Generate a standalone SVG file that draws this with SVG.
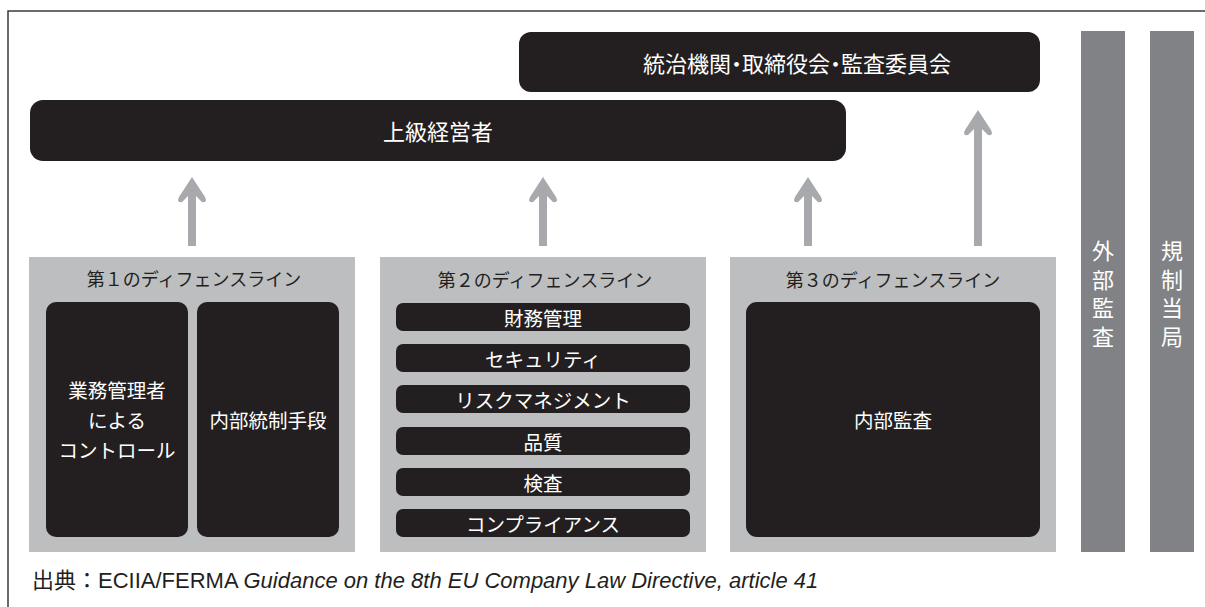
<svg xmlns="http://www.w3.org/2000/svg" width="1205" height="607" viewBox="0 0 1205 607">
<defs>
<style>
.dark{fill:#231f20}
.panel{fill:#bcbec0}
.bar{fill:#808285}
.arr{fill:#a7a9ac}
text{font-family:"Noto Sans CJK JP","Noto Sans",sans-serif;dominant-baseline:central;text-anchor:middle}
.w{fill:#ffffff}
.t22{font-size:22px}
.t20{font-size:19.5px}
.t18{font-size:18px;fill:#231f20}
.vert{font-size:22px;fill:#ffffff;writing-mode:vertical-rl;text-anchor:start;letter-spacing:6.5px}
</style>
<path id="head" d="M0,0 L13,20 Q16,26 10,25 L4,19 L-4,19 L-10,25 Q-16,26 -13,20 Z"/>
</defs>
<rect width="1205" height="607" fill="#ffffff"/>
<polyline points="8,607 8,11 1205,11" fill="none" stroke="#3a3a3a" stroke-width="1.5"/>

<g id="governance">
<rect class="dark" x="519" y="32" width="521" height="60" rx="12"/>
<text class="w t22" x="797" y="62" style="font-feature-settings:'palt'">統治機関・取締役会・監査委員会</text>
</g>
<g id="senior">
<rect class="dark" x="30" y="100" width="816" height="61" rx="13"/>
<text class="w t22" x="438" y="130">上級経営者</text>
</g>

<g id="external-audit">
<rect class="bar" x="1081" y="31" width="44" height="521"/>
<text class="vert" x="1103" y="240">外部監査</text>
</g>
<g id="regulator">
<rect class="bar" x="1150" y="31" width="44" height="521"/>
<text class="vert" x="1172" y="240">規制当局</text>
</g>

<g id="line1">
<rect class="panel" x="29" y="257" width="326" height="295"/>
<text class="t18" x="194" y="278">第１のディフェンスライン</text>
<g id="line1-ops">
<rect class="dark" x="46" y="302" width="142" height="235" rx="10"/>
<text class="w t20" x="117" y="389">業務管理者</text>
<text class="w t20" x="117" y="419">による</text>
<text class="w t20" x="117" y="449">コントロール</text>
</g>
<g id="line1-ic">
<rect class="dark" x="197" y="302" width="142" height="235" rx="10"/>
<text class="w t20" x="268" y="419">内部統制手段</text>
</g>
</g>

<g id="line2">
<rect class="panel" x="380" y="257" width="326" height="295"/>
<text class="t18" x="545" y="279">第２のディフェンスライン</text>
<g id="l2-1"><rect class="dark" x="396" y="303" width="294" height="28" rx="7"/><text class="w t20" x="543" y="317">財務管理</text></g>
<g id="l2-2"><rect class="dark" x="396" y="344" width="294" height="28" rx="7"/><text class="w t20" x="543" y="358">セキュリティ</text></g>
<g id="l2-3"><rect class="dark" x="396" y="385" width="294" height="28" rx="7"/><text class="w t20" x="543" y="399">リスクマネジメント</text></g>
<g id="l2-4"><rect class="dark" x="396" y="427" width="294" height="28" rx="7"/><text class="w t20" x="543" y="441">品質</text></g>
<g id="l2-5"><rect class="dark" x="396" y="468" width="294" height="28" rx="7"/><text class="w t20" x="543" y="482">検査</text></g>
<g id="l2-6"><rect class="dark" x="396" y="509" width="294" height="28" rx="7"/><text class="w t20" x="543" y="523">コンプライアンス</text></g>
</g>

<g id="line3">
<rect class="panel" x="730" y="257" width="326" height="295"/>
<text class="t18" x="893" y="279">第３のディフェンスライン</text>
<g id="internal-audit">
<rect class="dark" x="746" y="302" width="294" height="235" rx="11"/>
<text class="w t20" x="893" y="419">内部監査</text>
</g>
</g>

<g id="connectors" class="arr">
<rect x="188" y="194" width="8" height="52"/><use href="#head" x="192" y="177"/>
<rect x="539" y="194" width="8" height="52"/><use href="#head" x="543" y="177"/>
<rect x="804" y="194" width="8" height="52"/><use href="#head" x="808" y="177"/>
<rect x="974" y="127" width="8" height="119"/><use href="#head" x="978" y="110"/>
</g>

<text x="32" y="588" style="text-anchor:start;dominant-baseline:auto;font-size:22px;fill:#231f20"><tspan style="font-family:'Noto Sans CJK JP',sans-serif">出典：</tspan><tspan style="font-family:'Liberation Sans',Arial,sans-serif">ECIIA/FERMA </tspan><tspan style="font-family:'Liberation Sans',Arial,sans-serif;font-style:italic">Guidance on the 8th EU Company Law Directive, article 41</tspan></text>
</svg>
